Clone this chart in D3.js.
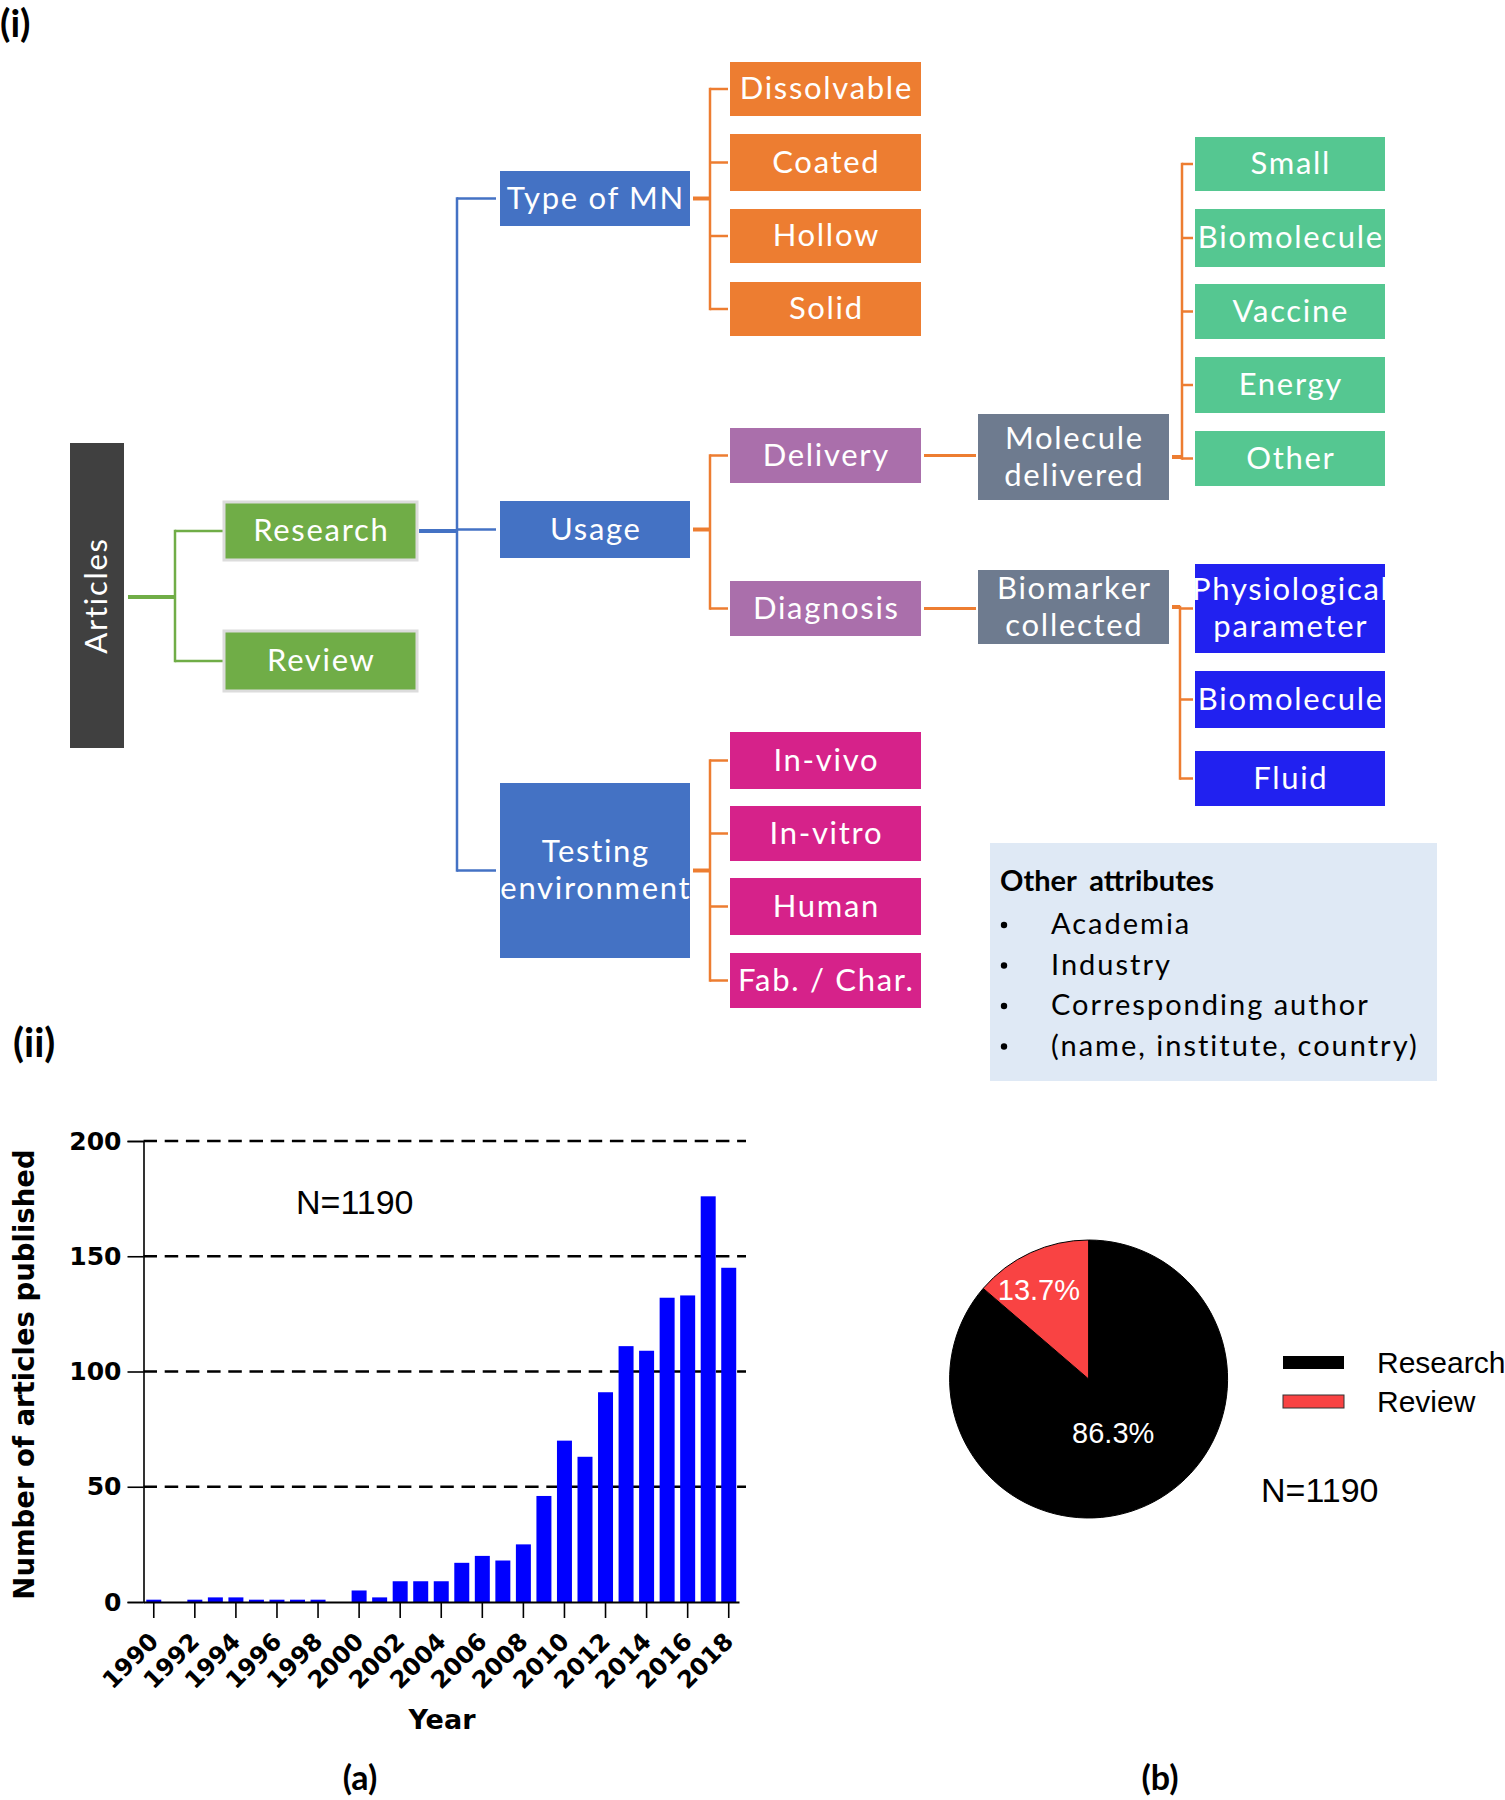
<!DOCTYPE html>
<html><head><meta charset="utf-8">
<script src="https://cdn.jsdelivr.net/npm/d3@7"></script>
<style>body{margin:0;background:#fff}</style>
</head><body>
<svg id="c" width="1505" height="1800"></svg>
<script>
// ---------------- DATA ----------------
const years = [1990,1991,1992,1993,1994,1995,1996,1997,1998,1999,2000,2001,2002,2003,2004,2005,2006,2007,2008,2009,2010,2011,2012,2013,2014,2015,2016,2017,2018];
const articleCounts = [1,0,1,2,2,1,1,1,1,0,5,2,9,9,9,17,20,18,25,46,70,63,91,111,109,132,133,176,145];
const yTickValues = [0,50,100,150,200];
const xTickYears = [1990,1992,1994,1996,1998,2000,2002,2004,2006,2008,2010,2012,2014,2016,2018];
const totalLabel = "N=1190";
const pieCategories = ["Research","Review"];
const pieShares = [86.3, 13.7];

const rootLabel = "Articles";
const articleTypes = ["Research","Review"];
const researchAspects = ["Type of MN","Usage","Testing\nenvironment"];
const mnTypes = ["Dissolvable","Coated","Hollow","Solid"];
const usages = ["Delivery","Diagnosis"];
const testEnvs = ["In-vivo","In-vitro","Human","Fab. / Char."];
const usageDetails = ["Molecule\ndelivered","Biomarker\ncollected"];
const moleculesDelivered = ["Small","Biomolecule","Vaccine","Energy","Other"];
const biomarkers = ["Physiological\nparameter","Biomolecule","Fluid"];
const otherAttrTitle = "Other attributes";
const otherAttributes = ["Academia","Industry","Corresponding author","(name, institute, country)"];

// ---------------- STYLE ----------------
const C = {
  dark:"#404040", green:"#70ad47", blue:"#4472c4", orange:"#ed7d31",
  purple:"#aa6fab", slate:"#6e7b8f", teal:"#55c791", vivid:"#2121f0",
  magenta:"#d6228a", pale:"#dfe9f5", bar:"#0000ff", red:"#f94343"
};
const svg = d3.select("#c");
const boxFont = "Lato, 'Open Sans', sans-serif";

function drawBox(x,y,w,h,fill,label,opt={}){
  const g = svg.append("g");
  g.append("rect").attr("x",x).attr("y",y).attr("width",w).attr("height",h)
    .attr("fill",fill).attr("stroke",opt.stroke||"none").attr("stroke-width",opt.sw||0);
  const lines = label.split("\n");
  const cx = x+w/2, cy = y+h/2, lh = 37;
  const t = g.append("text").attr("fill","#fff").attr("font-family",boxFont)
    .attr("font-size",31).attr("letter-spacing","1.7px").attr("text-anchor","middle");
  if(opt.rotate){
    t.attr("transform",`translate(${cx+10},${cy}) rotate(-90)`).text(label);
  } else {
    lines.forEach((ln,i)=>{
      t.append("tspan").attr("x",cx+0.85).attr("y",cy+10+(i-(lines.length-1)/2)*lh).text(ln);
    });
  }
}
function line(x1,y1,x2,y2,color,w){
  svg.append("line").attr("x1",x1).attr("y1",y1).attr("x2",x2).attr("y2",y2)
    .attr("stroke",color).attr("stroke-width",w);
}
function bracket(color,stemX0,vx,stemY,childYs,stubX1){
  line(stemX0,stemY,vx,stemY,color,4);
  const ys = childYs.concat([stemY]);
  line(vx,d3.min(ys)-1.25,vx,d3.max(ys)+1.25,color,2.5);
  childYs.forEach(cy=>line(vx,cy,stubX1,cy,color,2.5));
}

// ---------------- TREE LAYOUT ----------------
const rootBox = {x:70,y:443,w:54,h:305};
const typeBoxes = [{y:502,h:58},{y:631,h:60}];
const aspectBoxes = [{y:171,h:55},{y:501,h:57},{y:783,h:175}];
const mnBoxes = [{y:62,h:54},{y:134,h:57},{y:209,h:54},{y:282,h:54}];
const usageBoxes = [{y:428,h:55},{y:581,h:55}];
const envBoxes = [{y:732,h:57},{y:806,h:55},{y:878,h:57},{y:953,h:55}];
const detailBoxes = [{y:414,h:86},{y:570,h:74}];
const molBoxes = [{y:137,h:54},{y:209,h:58},{y:284,h:55},{y:357,h:56},{y:431,h:55}];
const bioBoxes = [{y:564,h:89},{y:671,h:57},{y:751,h:55}];
const mid = b=>b.y+b.h/2;

// connectors
bracket(C.green,128,175,597,typeBoxes.map(mid),223);
bracket(C.blue,419,457,mid(typeBoxes[0]),aspectBoxes.map(mid),496);
bracket(C.orange,693,710,mid(aspectBoxes[0]),mnBoxes.map(mid),728);
bracket(C.orange,693,710,mid(aspectBoxes[1]),usageBoxes.map(mid),728);
bracket(C.orange,693,710,mid(aspectBoxes[2]),envBoxes.map(mid),728);
line(924,mid(usageBoxes[0]),976,mid(usageBoxes[0]),C.orange,3);
line(924,mid(usageBoxes[1]),976,mid(usageBoxes[1]),C.orange,3);
bracket(C.orange,1172,1182,mid(detailBoxes[0]),molBoxes.map(mid),1193);
bracket(C.orange,1172,1180,mid(detailBoxes[1]),bioBoxes.map(mid),1193);

// boxes
drawBox(rootBox.x,rootBox.y,rootBox.w,rootBox.h,C.dark,rootLabel,{rotate:true});
articleTypes.forEach((l,i)=>drawBox(224,typeBoxes[i].y,193,typeBoxes[i].h,C.green,l,{stroke:"#dcdcdc",sw:3}));
researchAspects.forEach((l,i)=>drawBox(500,aspectBoxes[i].y,190,aspectBoxes[i].h,C.blue,l));
mnTypes.forEach((l,i)=>drawBox(730,mnBoxes[i].y,191,mnBoxes[i].h,C.orange,l));
usages.forEach((l,i)=>drawBox(730,usageBoxes[i].y,191,usageBoxes[i].h,C.purple,l));
testEnvs.forEach((l,i)=>drawBox(730,envBoxes[i].y,191,envBoxes[i].h,C.magenta,l));
usageDetails.forEach((l,i)=>drawBox(978,detailBoxes[i].y,191,detailBoxes[i].h,C.slate,l));
moleculesDelivered.forEach((l,i)=>drawBox(1195,molBoxes[i].y,190,molBoxes[i].h,C.teal,l));
biomarkers.forEach((l,i)=>drawBox(1195,bioBoxes[i].y,190,bioBoxes[i].h,C.vivid,l));

// other attributes box
svg.append("rect").attr("x",990).attr("y",843).attr("width",447).attr("height",238).attr("fill",C.pale);
svg.append("text").attr("x",1000).attr("y",891).attr("font-family",boxFont).attr("font-weight","bold")
  .attr("font-size",29).attr("word-spacing","6px").attr("fill","#000").text(otherAttrTitle);
otherAttributes.forEach((t,i)=>{
  const by = 934 + i*40.5;
  svg.append("circle").attr("cx",1004).attr("cy",by-9).attr("r",3.2).attr("fill","#000");
  svg.append("text").attr("x",1051).attr("y",by).attr("font-family",boxFont).attr("font-size",29)
    .attr("letter-spacing","2px").attr("fill","#000").text(t);
});

// panel labels
const panelFont = "Lato, 'Open Sans', sans-serif";
svg.append("text").attr("x",0).attr("y",37).attr("font-family",panelFont).attr("font-weight","bold").attr("font-size",38).text("(i)");
svg.append("text").attr("x",13).attr("y",1057).attr("font-family",panelFont).attr("font-weight","bold").attr("font-size",40).text("(ii)");

// ---------------- BAR CHART ----------------
const chartFont = "'DejaVu Sans', sans-serif";
const x = d3.scaleBand().domain(years).range([143.5,739]).paddingInner(0.27).paddingOuter(0.135);
const y = d3.scaleLinear().domain([0,200]).range([1602,1141]);

const grid = svg.append("g");
yTickValues.filter(v=>v>0).forEach(v=>{
  grid.append("line").attr("x1",143.5).attr("x2",746).attr("y1",y(v)).attr("y2",y(v))
    .attr("stroke","#000").attr("stroke-width",2.6).attr("stroke-dasharray","13.5,7.7");
});

svg.append("g").selectAll("rect").data(years).join("rect")
  .attr("x",d=>x(d)).attr("width",x.bandwidth())
  .attr("y",(d,i)=>y(articleCounts[i])).attr("height",(d,i)=>y(0)-y(articleCounts[i]))
  .attr("fill",C.bar);

const yAxis = svg.append("g").attr("transform","translate(143.5,0)")
  .call(d3.axisLeft(y).tickValues(yTickValues).tickSize(16).tickPadding(6));
yAxis.select(".domain").attr("stroke-width",1.6);
yAxis.selectAll(".tick line").attr("stroke-width",1.6);
yAxis.selectAll("text").attr("font-family",chartFont).attr("font-weight","bold").attr("font-size",25).attr("fill","#000");

const xAxis = svg.append("g").attr("transform","translate(0,1602)")
  .call(d3.axisBottom(x).tickValues(xTickYears).tickSize(16).tickSizeOuter(0));
xAxis.select(".domain").attr("stroke-width",2);
xAxis.selectAll(".tick line").attr("stroke-width",1.6);
xAxis.selectAll("text").attr("font-family",chartFont).attr("font-weight","bold").attr("font-size",24).attr("fill","#000")
  .attr("x",0).attr("y",0).attr("dy",0).style("text-anchor","end")
  .attr("transform","translate(6,41) rotate(-45)");

svg.append("text").attr("x",442).attr("y",1729).attr("text-anchor","middle").attr("font-family",chartFont)
  .attr("font-weight","bold").attr("font-size",27).text("Year");
svg.append("text").attr("transform","translate(34,1374.5) rotate(-90)").attr("text-anchor","middle")
  .attr("font-family",chartFont).attr("font-weight","bold").attr("font-size",27.5).text("Number of articles published");
svg.append("text").attr("x",296).attr("y",1214).attr("font-family","'Liberation Sans', Arial, sans-serif")
  .attr("font-size",34).text(totalLabel);
svg.append("text").attr("x",360).attr("y",1790).attr("text-anchor","middle").attr("font-family",panelFont)
  .attr("font-weight","bold").attr("font-size",34).text("(a)");

// ---------------- PIE ----------------
const pieFont = "'Liberation Sans', Arial, sans-serif";
const pcx = 1088.6, pcy = 1379, R = 139;
const pie = d3.pie().sort(null)(pieShares);
const arc = d3.arc().innerRadius(0).outerRadius(R);
const pieColors = ["#000000", C.red];
const pg = svg.append("g").attr("transform",`translate(${pcx},${pcy})`);
pg.selectAll("path").data(pie).join("path").attr("d",arc)
  .attr("fill",(d,i)=>pieColors[i]).attr("stroke","#000").attr("stroke-width",1);
const labelRadii = [59,100];
const labelShift = [0,-8];
pg.selectAll("text").data(pie).join("text")
  .attr("transform",(d,i)=>{
    const c = d3.arc().innerRadius(labelRadii[i]).outerRadius(labelRadii[i]).centroid(d);
    return `translate(${c[0]+labelShift[i]},${c[1]+labelShift[i]*-0.2})`;
  })
  .attr("text-anchor","middle").attr("dy","0.36em").attr("fill","#fff")
  .attr("font-family",pieFont).attr("font-size",29)
  .text(d=>d.data.toFixed(1)+"%");

pieCategories.forEach((c,i)=>{
  svg.append("rect").attr("x",1283).attr("y",1356+i*39).attr("width",61).attr("height",13)
    .attr("fill",pieColors[i]).attr("stroke",i?"#333":"none").attr("stroke-width",1);
  svg.append("text").attr("x",1377).attr("y",1373+i*39).attr("font-family",pieFont).attr("font-size",30).text(c);
});
svg.append("text").attr("x",1261).attr("y",1502).attr("font-family",pieFont).attr("font-size",34).text(totalLabel);
svg.append("text").attr("x",1160).attr("y",1790).attr("text-anchor","middle").attr("font-family",panelFont)
  .attr("font-weight","bold").attr("font-size",34).text("(b)");
</script>
</body></html>
